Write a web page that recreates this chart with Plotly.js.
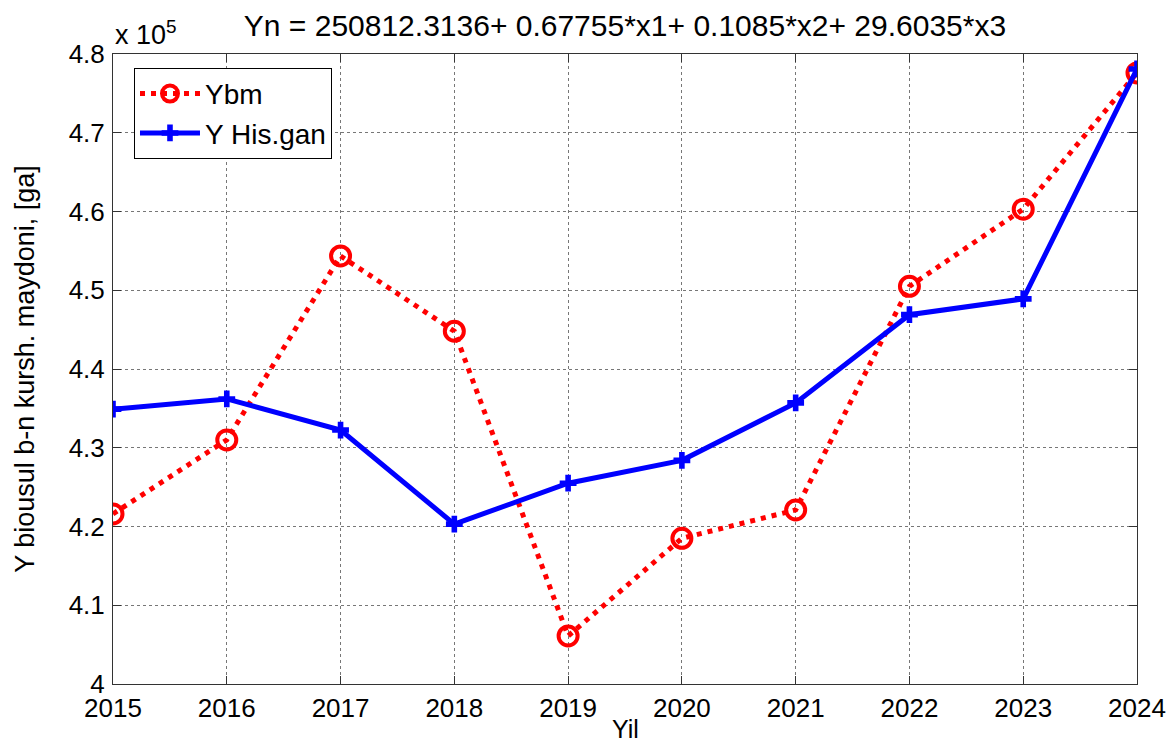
<!DOCTYPE html>
<html>
<head>
<meta charset="utf-8">
<script src="https://cdn.plot.ly/plotly-3.0.1.min.js"></script>
<style>html,body{margin:0;padding:0;background:#fff;}#chart{width:1171px;height:744px;}</style>
</head>
<body>
<div id="chart"></div>
<script>
const years = [2015, 2016, 2017, 2018, 2019, 2020, 2021, 2022, 2023, 2024];
const ybm = [421600, 431000, 454350, 444800, 406100, 418500, 422100, 450500, 460300, 477600];
const yHisGan = [434900, 436200, 432250, 420300, 425500, 428400, 435700, 446900, 448900, 478100];
const yTickVals = [400000, 410000, 420000, 430000, 440000, 450000, 460000, 470000, 480000];
const yTickText = ['4', '4.1', '4.2', '4.3', '4.4', '4.5', '4.6', '4.7', '4.8'];
const xTickVals = years;
const titleText = 'Yn = 250812.3136+ 0.67755*x1+ 0.1085*x2+ 29.6035*x3';
const xTitleText = 'Yil';
const yTitleText = 'Y biousul b-n kursh. maydoni, [ga]';

const FONT = 'Liberation Sans, Arial, sans-serif';

const traces = [
  {
    x: years, y: ybm, name: 'Ybm', type: 'scatter', mode: 'lines+markers',
    line: {color: '#ff0000', width: 5, dash: '5px,6px'},
    marker: {symbol: 'circle-open', size: 19, color: '#ff0000', line: {color: '#ff0000', width: 4}}
  },
  {
    x: years, y: yHisGan, name: 'Y His.gan', type: 'scatter', mode: 'lines+markers',
    line: {color: '#0000ff', width: 5},
    marker: {symbol: 'cross', size: 14, color: '#0000ff', line: {width: 0}}
  }
];

const axisCommon = {
  showline: true, linecolor: '#333', linewidth: 1, mirror: 'ticks',
  ticks: 'inside', ticklen: 8, tickcolor: '#333', tickwidth: 1,
  showgrid: true, gridcolor: '#777', griddash: 'dot', gridwidth: 1,
  zeroline: false,
  tickfont: {family: FONT, size: 26, color: '#000'}
};

const layout = {
  width: 1171, height: 744,
  margin: {l: 113, r: 34, t: 54, b: 60},
  paper_bgcolor: '#fff', plot_bgcolor: '#fff',
  font: {family: FONT, color: '#000'},
  showlegend: true,
  title: {text: titleText, font: {family: FONT, size: 30, color: '#000'},
          xref: 'paper', x: 0.5, xanchor: 'center', yref: 'container', y: 0.966, yanchor: 'middle'},
  xaxis: Object.assign({}, axisCommon, {
    range: [2015, 2024], tickvals: xTickVals, ticktext: xTickVals.map(String),
    ticklabelstandoff: 1
  }),
  yaxis: Object.assign({}, axisCommon, {
    range: [400000, 480000], tickvals: yTickVals, ticktext: yTickText,
    ticklabelstandoff: 2,
    title: {text: yTitleText, font: {family: FONT, size: 27, color: '#000'}, standoff: 26}
  }),
  legend: {
    x: 0.0205, y: 0.978, xanchor: 'left', yanchor: 'top',
    bgcolor: '#fff', bordercolor: '#000', borderwidth: 1,
    font: {family: FONT, size: 28, color: '#000'},
    itemwidth: 60, tracegroupgap: 0
  },
  annotations: [
    {text: 'x 10<sup>5</sup>', xref: 'paper', yref: 'paper', x: 0, y: 1, xanchor: 'left', yanchor: 'bottom',
     yshift: 2, showarrow: false, font: {family: FONT, size: 27, color: '#000'}},
    {text: xTitleText, xref: 'paper', yref: 'paper', x: 0.5, y: 0, xanchor: 'center', yanchor: 'bottom',
     yshift: -60, showarrow: false, borderpad: 0, font: {family: FONT, size: 25, color: '#000'}}
  ]
};

Plotly.newPlot('chart', traces, layout, {displayModeBar: false, staticPlot: true});
</script>
</body>
</html>
